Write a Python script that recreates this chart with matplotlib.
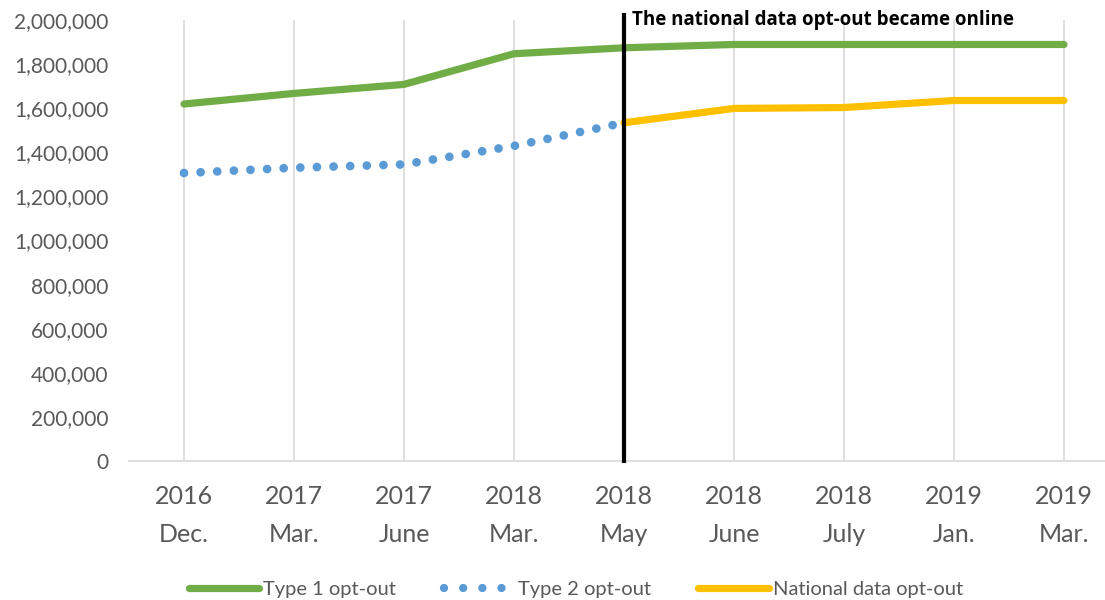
import matplotlib.pyplot as plt
from matplotlib.ticker import FuncFormatter
from matplotlib.lines import Line2D

plt.rcParams['font.family'] = ['Lato', 'DejaVu Sans']

# categories (year / month)
years = ["2016", "2017", "2017", "2018", "2018", "2018", "2018", "2019", "2019"]
months = ["Dec.", "Mar.", "June", "Mar.", "May", "June", "July", "Jan.", "Mar."]

# series values (None = no data)
type1 = [1619000, 1667000, 1708000, 1847000, 1874000, 1889000, 1889000, 1889000, 1889000]
type2 = [1306000, 1330000, 1345000, 1429000, 1534000, None, None, None, None]
national = [None, None, None, None, 1534000, 1599000, 1603000, 1635000, 1635000]

online_idx = 4  # May 2018
note = "The national data opt-out became online"

GREEN = "#70ad47"
BLUE = "#5b9bd5"
YELLOW = "#ffc000"
GREY = "#595959"

DOTS = (0, (0.001, 1.9))

fig = plt.figure(figsize=(11.05, 6), dpi=100)
ax = fig.add_axes([129 / 1105, 1 - 461 / 600, 1 - 129 / 1105, 441 / 600])

x = list(range(len(years)))

def pts(vals):
    xs = [i for i, v in zip(x, vals) if v is not None]
    ys = [v for v in vals if v is not None]
    return xs, ys

xs, ys = pts(type1)
ax.plot(xs, ys, color=GREEN, lw=5.2, solid_capstyle="round", zorder=3)
xs, ys = pts(type2)
ax.plot(xs, ys, color=BLUE, lw=6.3, linestyle=DOTS, dash_capstyle="round", zorder=3)
xs, ys = pts(national)
ax.plot(xs, ys, color=YELLOW, lw=5.2, solid_capstyle="round", zorder=3)

ax.axvline(online_idx, ymin=0, ymax=1.0115, color="black", lw=3, clip_on=False, zorder=4)
ax.text(online_idx + 0.07, 2000000, note, fontsize=13.5, fontweight="bold",
        color="black", va="center", ha="left", family=["Open Sans", "DejaVu Sans"])

ax.set_ylim(0, 2000000)
ax.set_xlim(-0.5, (1105 - 184) / 110)
ax.set_yticks(range(0, 2000001, 200000))
ax.yaxis.set_major_formatter(FuncFormatter(lambda v, p: f"{int(v):,}"))
ax.set_xticks(x)
ax.set_xticklabels([f"{y}\n{m}" for y, m in zip(years, months)], fontsize=18,
                   color=GREY, linespacing=1.8)
ax.tick_params(axis="y", labelsize=15, colors=GREY, length=0, pad=15)
ax.tick_params(axis="x", length=0, pad=17)

ax.grid(axis="x", color="#d9d9d9", lw=1.2)
ax.set_axisbelow(True)
for s in ["top", "right", "left"]:
    ax.spines[s].set_visible(False)
ax.spines["bottom"].set_color("#d9d9d9")
ax.spines["bottom"].set_linewidth(1.2)

handles = [
    Line2D([], [], color=GREEN, lw=5.2, solid_capstyle="round"),
    Line2D([], [], color=BLUE, lw=6.0, linestyle=(0, (0.001, 2.3)), dash_capstyle="round"),
    Line2D([], [], color=YELLOW, lw=5.2, solid_capstyle="round"),
]
fig.legend(handles, ["Type 1 opt-out", "Type 2 opt-out", "National data opt-out"],
           loc="center", bbox_to_anchor=(576 / 1105, 1 - 589 / 600), ncol=3, frameon=False,
           fontsize=14.5, handlelength=3.5, handletextpad=0.2, columnspacing=2.35,
           labelcolor=GREY)

fig.savefig("out.png", dpi=100)
